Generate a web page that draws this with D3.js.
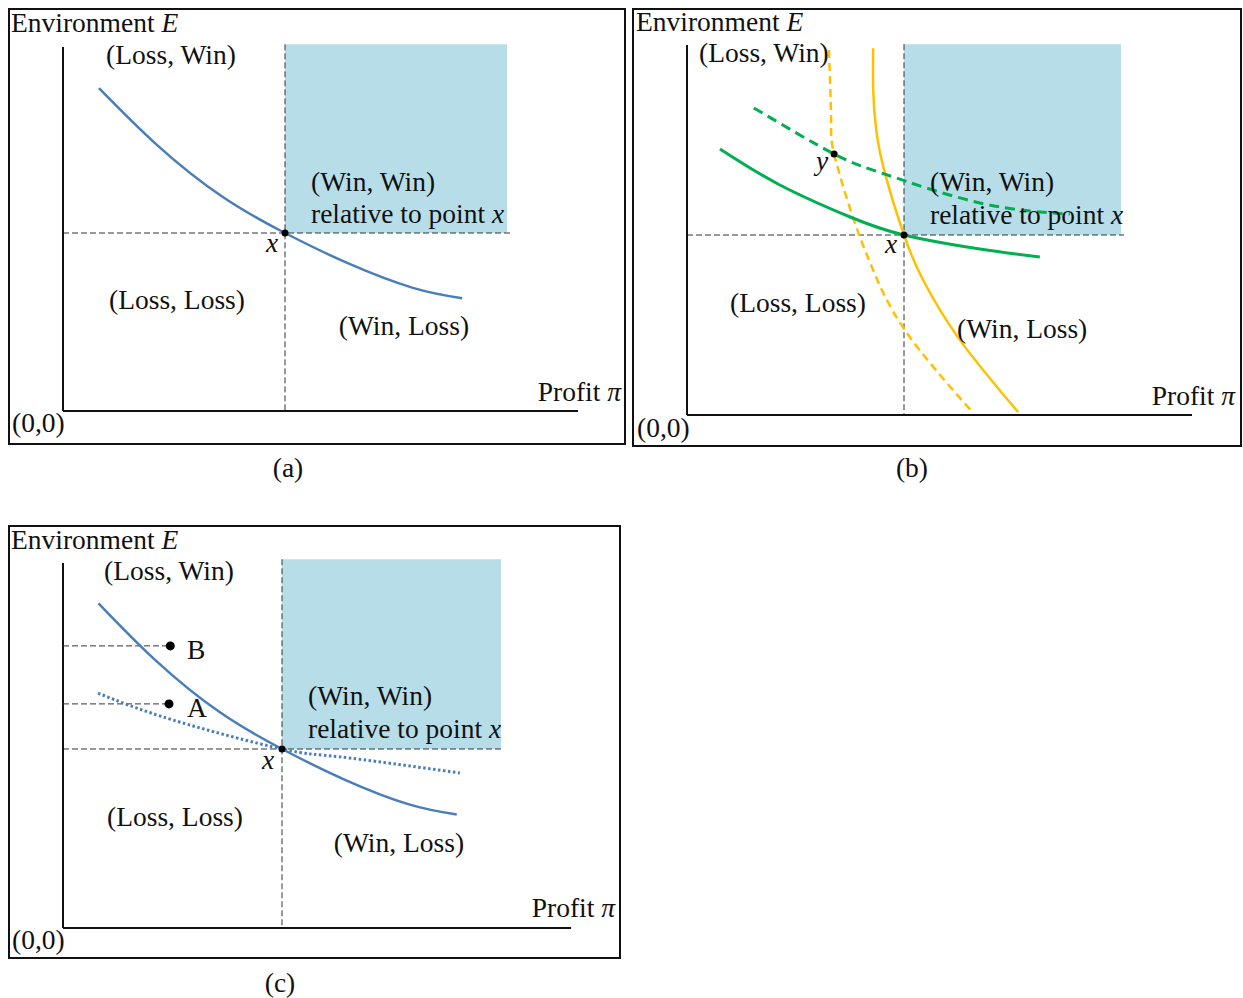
<!DOCTYPE html>
<html>
<head>
<meta charset="utf-8">
<script src="https://cdn.jsdelivr.net/npm/d3@7"></script>
<style>
  html, body { margin: 0; padding: 0; background: #fff; }
  svg text { font-family: "Liberation Serif", "Times New Roman", serif; fill: #111; }
</style>
</head>
<body>
<svg id="chart" width="1243" height="998"></svg>
<script>
// ---- Data (profit π on x, environment E on y, point x at (5,5)) ----
const refPoint = [5, 5];
const winWinRegion = [[5, 5], [10, 10.3]];

// Panels (a) and (c): the trade-off frontier through x
const frontier = [[0.81, 9.07], [2.12, 7.47], [3.60, 6.01], [5, 5], [6.40, 4.16], [7.88, 3.46], [8.99, 3.17]];
// Panel (c): flatter frontier (dotted)
const frontierFlat = [[0.80, 6.56], [2.51, 5.81], [5, 5], [6.32, 4.78], [9.06, 4.33]];
const pointA = [2.42, 6.26];
const pointB = [2.45, 7.88];

// Panel (b): green and yellow curves, solid through x, dashed through y
const greenSolid = [[0.76, 7.39], [2.14, 6.39], [3.76, 5.50], [5, 5], [6.75, 4.61], [8.13, 4.39]];
const greenDashed = [[1.54, 8.53], [3.39, 7.25], [4.61, 6.67], [6.75, 5.89], [8.82, 5.58]];
const yellowSolid = [[4.29, 10.19], [4.29, 9.03], [4.36, 7.92], [4.56, 6.72], [5, 5],
                     [5.44, 3.75], [6.29, 2.08], [7.63, 0.08]];
const yellowDashed = [[3.27, 10.14], [3.32, 8.19], [3.39, 7.25], [3.82, 5.5], [4.26, 4.11],
                      [5.02, 2.36], [6.59, 0.06]];
const pointY = [3.39, 7.25];

// Text
const quadrantLabels = ["(Loss, Win)", "(Win, Win)", "(Loss, Loss)", "(Win, Loss)"];
const panelCaptions = ["(a)", "(b)", "(c)"];

// ---- Styles ----
const BLUE = "#4A7EBB", GREEN = "#00B050", YELLOW = "#FFC000", REGION = "#B7DEE8";
const FS = 27.5;

const svg = d3.select("#chart");

// Panel layout (pixel geometry)
const panels = [
  { caption: panelCaptions[0], frame: [9, 9, 625, 444], origin: [63, 411], ref: [285, 233],
    axisTop: 47, axisRight: 578, captionPos: [288, 477],
    env: [11, 32], lossWin: [171, 64, "middle"], winWin: [311, 191], rel: [311, 223],
    xLab: [272, 252], lossLoss: [177, 309, "middle"], winLoss: [404, 335, "middle"],
    profit: [621, 401], zero: [12, 432] },
  { caption: panelCaptions[1], frame: [633, 9, 1241, 446], origin: [687, 415], ref: [904, 235],
    axisTop: 45, axisRight: 1192, captionPos: [912, 477],
    env: [636, 31], lossWin: [699, 62, "start"], winWin: [930, 191], rel: [930, 224],
    xLab: [891, 253], lossLoss: [798, 312, "middle"], winLoss: [957, 338, "start"],
    profit: [1235, 405], zero: [637, 437], yLab: [822, 170] },
  { caption: panelCaptions[2], frame: [9, 526, 620, 958], origin: [63, 928], ref: [282, 749],
    axisTop: 563, axisRight: 571, captionPos: [280, 992],
    env: [11, 549], lossWin: [169, 580, "middle"], winWin: [308, 705], rel: [308, 738],
    xLab: [268, 769], lossLoss: [175, 826, "middle"], winLoss: [399, 852, "middle"],
    profit: [615, 917], zero: [12, 949], aLab: [187, 717], bLab: [187, 659] }
];

function addText(g, pos, parts, anchor) {
  const t = g.append("text").attr("x", pos[0]).attr("y", pos[1])
    .attr("font-size", FS).attr("text-anchor", anchor || "start");
  parts.forEach(p => {
    const s = t.append("tspan").text(p.t);
    if (p.i) s.attr("font-style", "italic");
  });
  return t;
}

function drawPanel(p, idx) {
  const g = svg.append("g");
  const x = d3.scaleLinear().domain([0, refPoint[0]]).range([p.origin[0], p.ref[0]]);
  const y = d3.scaleLinear().domain([0, refPoint[1]]).range([p.origin[1], p.ref[1]]);
  const line = d3.line().x(d => x(d[0])).y(d => y(d[1])).curve(d3.curveNatural);

  // win-win region
  g.append("rect")
    .attr("x", x(winWinRegion[0][0])).attr("y", y(winWinRegion[1][1]))
    .attr("width", x(winWinRegion[1][0]) - x(winWinRegion[0][0]))
    .attr("height", y(winWinRegion[0][1]) - y(winWinRegion[1][1]))
    .attr("fill", REGION);

  // frame
  const f = p.frame;
  g.append("rect").attr("x", f[0]).attr("y", f[1]).attr("width", f[2] - f[0]).attr("height", f[3] - f[1])
    .attr("fill", "none").attr("stroke", "#111").attr("stroke-width", 2);

  // dashed guides through x
  const guide = (x1, y1, x2, y2) => g.append("line")
    .attr("x1", x1).attr("y1", y1).attr("x2", x2).attr("y2", y2)
    .attr("stroke", "#333").attr("stroke-width", 1).attr("stroke-dasharray", "6,3");
  guide(x(0), y(refPoint[1]), x(10.07), y(refPoint[1]));
  guide(x(refPoint[0]), y(winWinRegion[1][1]), x(refPoint[0]), y(0));

  // axes
  g.append("line").attr("x1", x(0)).attr("y1", p.axisTop).attr("x2", x(0)).attr("y2", y(0))
    .attr("stroke", "#111").attr("stroke-width", 2);
  g.append("line").attr("x1", x(0)).attr("y1", y(0)).attr("x2", p.axisRight).attr("y2", y(0))
    .attr("stroke", "#111").attr("stroke-width", 2);

  if (idx === 0 || idx === 2) {
    if (idx === 2) {
      [pointB, pointA].forEach(pt => guide(x(0), y(pt[1]), x(pt[0]), y(pt[1])));
      g.append("path").datum(frontierFlat).attr("d", line).attr("fill", "none")
        .attr("stroke", BLUE).attr("stroke-width", 3).attr("stroke-dasharray", "2.5,2.5");
    }
    g.append("path").datum(frontier).attr("d", line).attr("fill", "none")
      .attr("stroke", BLUE).attr("stroke-width", 2.5);
    if (idx === 2) {
      [pointB, pointA].forEach(pt => g.append("circle").attr("cx", x(pt[0])).attr("cy", y(pt[1]))
        .attr("r", 4.5).attr("fill", "#000"));
      addText(g, p.bLab, [{ t: "B" }]);
      addText(g, p.aLab, [{ t: "A" }]);
    }
  } else {
    g.append("path").datum(yellowDashed).attr("d", line).attr("fill", "none")
      .attr("stroke", YELLOW).attr("stroke-width", 2.5).attr("stroke-dasharray", "8,5");
    g.append("path").datum(yellowSolid).attr("d", line).attr("fill", "none")
      .attr("stroke", YELLOW).attr("stroke-width", 2.5);
    g.append("path").datum(greenDashed).attr("d", line).attr("fill", "none")
      .attr("stroke", GREEN).attr("stroke-width", 3).attr("stroke-dasharray", "10,6");
    g.append("path").datum(greenSolid).attr("d", line).attr("fill", "none")
      .attr("stroke", GREEN).attr("stroke-width", 3);
    g.append("circle").attr("cx", x(pointY[0])).attr("cy", y(pointY[1])).attr("r", 3.5).attr("fill", "#000");
    addText(g, p.yLab, [{ t: "y", i: true }], "middle");
  }

  // point x
  g.append("circle").attr("cx", x(refPoint[0])).attr("cy", y(refPoint[1])).attr("r", 3.5).attr("fill", "#000");

  // labels
  addText(g, p.env, [{ t: "Environment " }, { t: "E", i: true }]);
  addText(g, p.lossWin, [{ t: quadrantLabels[0] }], p.lossWin[2]);
  addText(g, p.winWin, [{ t: quadrantLabels[1] }]);
  addText(g, p.rel, [{ t: "relative to point " }, { t: "x", i: true }]);
  addText(g, p.xLab, [{ t: "x", i: true }], "middle");
  addText(g, p.lossLoss, [{ t: quadrantLabels[2] }], p.lossLoss[2]);
  addText(g, p.winLoss, [{ t: quadrantLabels[3] }], p.winLoss[2]);
  addText(g, p.profit, [{ t: "Profit " }, { t: "π", i: true }], "end");
  addText(g, p.zero, [{ t: "(0,0)" }]);
  addText(g, p.captionPos, [{ t: p.caption }], "middle");
}

panels.forEach(drawPanel);
</script>
</body>
</html>
